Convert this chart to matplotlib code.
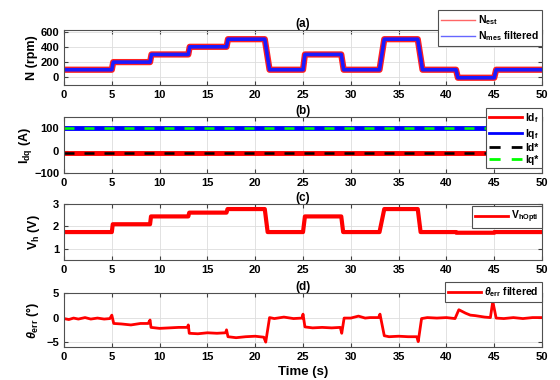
import numpy as np
import matplotlib
matplotlib.use('Agg')
import matplotlib.pyplot as plt

# speed profile (rpm)
n_t = [0, 5, 5.15, 9, 9.15, 13, 13.15, 17, 17.15, 21, 21.5, 25, 25.2, 29, 29.25,
       33, 33.5, 37, 37.5, 41, 41.2, 45, 45.2, 50]
n_est = [100, 100, 200, 200, 300, 300, 400, 400, 500, 500, 100, 100, 300, 300, 100,
         100, 500, 500, 100, 100, -5, -5, 100, 100]
n_mes = [100, 100, 200, 200, 300, 300, 400, 400, 500, 500, 100, 100, 300, 300, 100,
         100, 500, 500, 100, 100, -5, -5, 100, 100]

# currents (A)
i_t = [0, 50]
id_f = [-10, -10]
iq_f = [100, 100]
id_ref = [-10, -10]
iq_ref = [100, 100]

# injected voltage (V)
vh_t = [0, 5, 5.1, 9, 9.1, 13, 13.1, 17, 17.1, 21, 21.3, 25, 25.2, 29, 29.2,
        33, 33.5, 37, 37.3, 41, 41.05, 45, 45.05, 50]
vh = [1.75, 1.75, 2.1, 2.1, 2.45, 2.45, 2.62, 2.62, 2.78, 2.78, 1.75, 1.75, 2.45, 2.45, 1.75,
      1.75, 2.78, 2.78, 1.75, 1.75, 1.72, 1.72, 1.75, 1.75]

# position error (deg)
th_t = [0, 0.5, 1.0, 1.5, 2.2, 2.8, 3.5, 4.2, 4.8, 5.0, 5.2, 6, 7, 8, 8.8,
        9.0, 9.1, 10, 11, 12, 12.9, 13.0, 13.1, 14, 15, 16, 16.9, 17.0, 17.15,
        18, 19, 20, 20.9, 21.1, 21.5, 22, 23, 24, 24.9, 25.0, 25.2, 26, 27, 28, 28.9,
        29.05, 29.3, 30, 30.8, 31.5, 32, 32.9, 33.05, 33.5, 34, 35, 36, 36.9, 37.05,
        37.4, 38, 39, 40, 40.9, 41.3, 42, 42.5, 43, 44, 44.6, 44.85, 45.2, 46, 47,
        48, 49, 50]
th_err = [-0.2, -0.4, -0.1, -0.3, 0.0, -0.3, -0.1, -0.3, -0.2, 0.5, -1.2, -1.3, -1.5, -1.2, -1.2,
          -0.5, -2.0, -2.2, -2.1, -2.0, -2.0, -1.5, -3.2, -3.3, -3.1, -3.2, -3.1, -2.5, -3.9,
          -4.1, -3.9, -3.8, -4.0, -5.0, 0.0, -0.2, 0.1, -0.2, -0.1, 0.7, -1.9, -2.1, -2.0, -2.1, -2.0,
          -3.2, -0.1, -0.1, 0.3, -0.1, 0.0, 0.0, 0.7, -3.7, -3.9, -3.8, -3.9, -3.9, -4.9,
          -0.2, 0.0, -0.1, 0.0, -0.2, 1.6, 0.9, 0.5, 0.4, 0.1, 0.0, 3.3, -0.1, -0.2, 0.0,
          -0.2, 0.0, 0.0]

plt.rcParams['font.family'] = ['Liberation Sans', 'DejaVu Sans']
plt.rcParams['font.weight'] = 'bold'
plt.rcParams['axes.labelweight'] = 'bold'
plt.rcParams['axes.titleweight'] = 'bold'
plt.rcParams['mathtext.fontset'] = 'custom'
plt.rcParams['mathtext.rm'] = 'Liberation Sans:bold'
plt.rcParams['mathtext.bf'] = 'Liberation Sans:bold'
plt.rcParams['mathtext.it'] = 'Liberation Sans:italic'
plt.rcParams['mathtext.default'] = 'bf'

fig = plt.figure(figsize=(5.6, 3.8), dpi=100)
left, width = 0.1143, 0.8536
boxes = [(0.7763, 0.1447), (0.5447, 0.147), (0.3158, 0.147), (0.0868, 0.142)]
axes = [fig.add_axes([left, b, width, h]) for b, h in boxes]


def style(ax, title):
    ax.set_xlim(0, 50)
    ax.set_xticks(np.arange(0, 51, 5))
    ax.grid(True, color='#dddddd', lw=0.6)
    ax.set_axisbelow(True)
    ax.tick_params(direction='in', labelsize=8, length=3, top=True, right=True,
                   color='#404040')
    for s in ax.spines.values():
        s.set_color('#505050')
        s.set_linewidth(0.8)
    ax.set_title(title, fontsize=8.5, pad=2)


def legend(ax, anchor):
    leg = ax.legend(loc='upper right', bbox_to_anchor=anchor, fontsize=7.5,
                    fancybox=False, framealpha=1, edgecolor='#505050',
                    borderpad=0.3, labelspacing=0.2, handlelength=3.2,
                    handletextpad=0.3, borderaxespad=0)
    leg.get_frame().set_linewidth(0.8)
    return leg


# (a)
ax = axes[0]
ax.plot(n_t, n_est, color='#ff2020', lw=4.5, label=r'N$_{est}$')
ax.plot(n_t, n_mes, color='#1a1aff', lw=2.6, label=r'N$_{mes}$ filtered')
ax.set_ylim(-100, 620)
ax.set_yticks([0, 200, 400, 600])
ax.set_ylabel('N (rpm)', fontsize=9, labelpad=2)
style(ax, '(a)')
leg = legend(ax, (1.0, 1.36))
for ln, c in zip(leg.get_lines(), ['#ff6666', '#6666ff']):
    ln.set_linewidth(1.0)
    ln.set_color(c)

# (b)
ax = axes[1]
ax.plot(i_t, id_f, color='red', lw=3.5, label=r'Id$_{f}$')
ax.plot(i_t, iq_f, color='blue', lw=3.5, label=r'Iq$_{f}$')
ax.plot(i_t, id_ref, color='black', lw=1.8, ls=(0, (4, 4)), label='Id*')
ax.plot(i_t, iq_ref, color='#00ff00', lw=1.8, ls=(0, (4, 4)), label='Iq*')
ax.set_ylim(-100, 150)
ax.set_yticks([-100, 0, 100])
ax.set_ylabel(r'I$_{dq}$ (A)', fontsize=9, labelpad=0)
style(ax, '(b)')
leg = legend(ax, (1.0, 1.17))
for ln in leg.get_lines():
    ln.set_linewidth(2.0)

# (c)
ax = axes[2]
ax.plot(vh_t, vh, color='red', lw=3.0, label=r'V$_{hOpti}$')
ax.set_ylim(0.5, 3)
ax.set_yticks([1, 2, 3])
ax.set_ylabel(r'V$_{h}$ (V)', fontsize=9, labelpad=8)
style(ax, '(c)')
leg = legend(ax, (1.0, 0.97))
for ln in leg.get_lines():
    ln.set_linewidth(2.0)

# (d)
ax = axes[3]
ax.plot(th_t, th_err, color='red', lw=2.0, label=r'$\mathit{\theta}_{err}$ filtered')
ax.set_ylim(-6, 5)
ax.set_yticks([-5, 0, 5])
ax.set_ylabel(r'$\mathit{\theta}_{err}$ (°)', fontsize=9, labelpad=4)
style(ax, '(d)')
leg = legend(ax, (1.0, 1.2))
ax.set_xlabel('Time (s)', fontsize=9.5, labelpad=3)

fig.savefig('out.png', dpi=100)
